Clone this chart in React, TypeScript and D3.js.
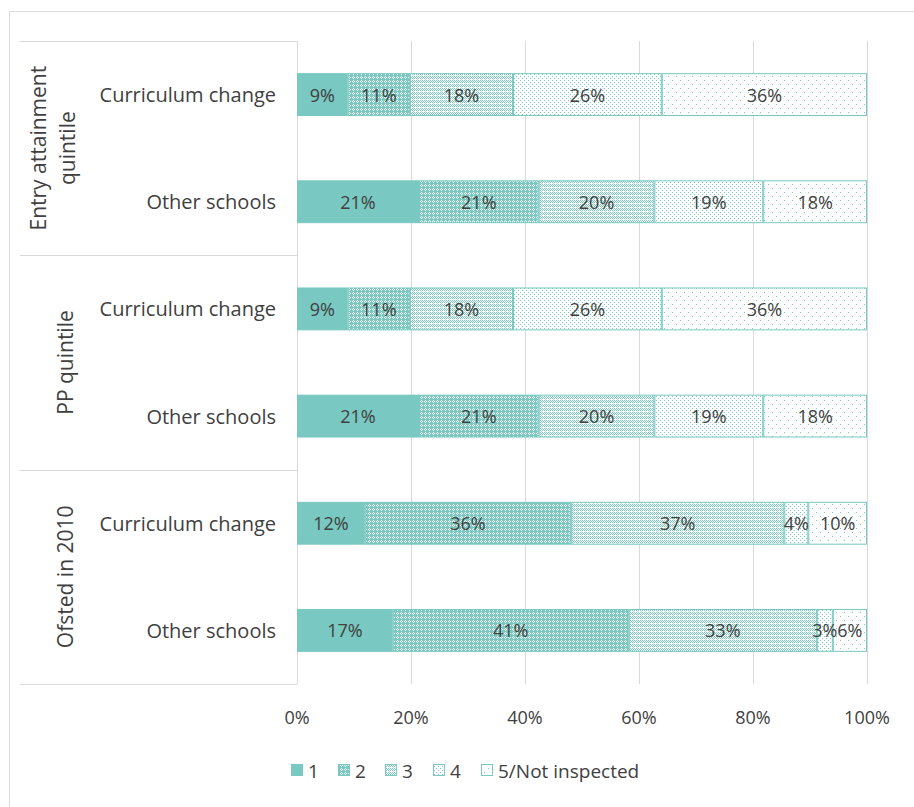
import React from "react";
import * as d3 from "d3";

const groups = ["Entry attainment quintile", "PP quintile", "Ofsted in 2010"];
const groupLines = [["Entry attainment", "quintile"], ["PP quintile"], ["Ofsted in 2010"]];
const rowLabels = ["Curriculum change", "Other schools", "Curriculum change", "Other schools", "Curriculum change", "Other schools"];
const rowGroup = [0, 0, 1, 1, 2, 2];
const seriesNames = ["1", "2", "3", "4", "5/Not inspected"];
const s1 = [8.9, 21.4, 8.9, 21.4, 11.9, 16.8];
const s2 = [10.9, 21.0, 10.9, 21.0, 36.2, 41.4];
const s3 = [18.1, 20.3, 18.1, 20.3, 37.4, 33.0];
const s4 = [26.1, 19.1, 26.1, 19.1, 4.2, 2.8];
const s5 = [36.0, 18.2, 36.0, 18.2, 10.3, 6.0];
const xTicks = [0, 20, 40, 60, 80, 100];

const TEAL = "#79C8C1";
const TEXT = "#404040";
const GRID = "#d9d9d9";
const FONT = "'Open Sans', sans-serif";

export default function App() {
  const series = [s1, s2, s3, s4, s5];
  const left = 297, right = 867, top = 41, bottom = 684;
  const x = d3.scaleLinear().domain([0, 100]).range([left, right]);
  const idx = rowLabels.map((_, i) => String(i));
  const y = d3.scaleBand().domain(idx).range([top, bottom]).paddingInner(0.6).paddingOuter(0.3);
  const step = y.step();
  const rows = rowLabels.map((_, i) => {
    let acc = 0;
    return series.map((s, k) => {
      const v = s[i];
      const seg = { k, x0: acc, x1: acc + v, v };
      acc += v;
      return seg;
    });
  });
  const fills = ["url(#p1)", "url(#p2)", "url(#p3)", "url(#p4)", "url(#p5)"];
  const groupBounds = groups.map((_, g) => {
    const rs = rowGroup.map((gg, i) => (gg === g ? i : -1)).filter((i) => i >= 0);
    const y0 = (y(String(rs[0])) as number) - (step - y.bandwidth()) / 2;
    const y1 = (y(String(rs[rs.length - 1])) as number) + y.bandwidth() + (step - y.bandwidth()) / 2;
    return { y0, y1 };
  });
  const legendX = [291, 338, 385, 433, 481];
  return (
    <svg width={914} height={807} style={{ position: "absolute", left: 0, top: 0, background: "#fff" }} fontFamily={FONT}>
      <defs>
        <pattern id="p2" width={4} height={4} patternUnits="userSpaceOnUse">
          <rect width={4} height={4} fill={TEAL} />
          <rect x={1} y={0} width={1} height={1} fill="#fff" />
          <rect x={0} y={1} width={1} height={1} fill="#fff" />
          <rect x={2} y={1} width={1} height={1} fill="#fff" />
          <rect x={1} y={2} width={1} height={1} fill="#fff" />
        </pattern>
        <pattern id="p3" width={4} height={4} patternUnits="userSpaceOnUse">
          <rect width={4} height={4} fill="#fff" />
          <rect x={0} y={0} width={1} height={1} fill={TEAL} />
          <rect x={2} y={0} width={1} height={1} fill={TEAL} />
          <rect x={1} y={1} width={1} height={1} fill={TEAL} />
          <rect x={3} y={1} width={1} height={1} fill={TEAL} />
          <rect x={0} y={2} width={1} height={1} fill={TEAL} />
          <rect x={2} y={2} width={1} height={1} fill={TEAL} />
          <rect x={1} y={3} width={1} height={1} fill={TEAL} opacity={0.5} />
        </pattern>
        <pattern id="p4" width={4} height={4} patternUnits="userSpaceOnUse">
          <rect width={4} height={4} fill="#fff" />
          <rect x={0} y={0} width={1} height={1} fill={TEAL} />
          <rect x={2} y={2} width={1} height={1} fill={TEAL} />
        </pattern>
        <pattern id="p5" width={8} height={8} patternUnits="userSpaceOnUse">
          <rect width={8} height={8} fill="#fff" />
          <rect x={0} y={0} width={1} height={1} fill={TEAL} />
          <rect x={4} y={4} width={1} height={1} fill={TEAL} />
        </pattern>
        <pattern id="p1" width={4} height={4} patternUnits="userSpaceOnUse">
          <rect width={4} height={4} fill={TEAL} />
        </pattern>
      </defs>
      <rect x={9.5} y={11.5} width={1000} height={1000} fill="none" stroke={GRID} />
      {xTicks.map((t) => (
        <g key={t}>
          <line x1={Math.round(x(t)) + 0.5} x2={Math.round(x(t)) + 0.5} y1={top} y2={bottom} stroke={GRID} />
          <text x={x(t)} y={717} textAnchor="middle" dominantBaseline="central" fontSize={18} fill={TEXT}>
            {t}%
          </text>
        </g>
      ))}
      {groupBounds.map((b, g) => (
        <g key={g}>
          <line x1={20} x2={left} y1={Math.round(b.y0) + 0.5} y2={Math.round(b.y0) + 0.5} stroke={GRID} />
          {g === groups.length - 1 && (
            <line x1={20} x2={left} y1={Math.round(b.y1) + 0.5} y2={Math.round(b.y1) + 0.5} stroke={GRID} />
          )}
          {groupLines[g].map((ln, j) => {
            const n = groupLines[g].length;
            const cx = n === 1 ? 65 : 38 + j * 29;
            const cy = (b.y0 + b.y1) / 2;
            return (
              <text key={j} transform={`translate(${cx},${cy}) rotate(-90)`} textAnchor="middle" dominantBaseline="central" fontSize={21} fill={TEXT}>
                {ln}
              </text>
            );
          })}
        </g>
      ))}
      {rowLabels.map((lab, i) => (
        <text key={i} x={276} y={(y(String(i)) as number) + y.bandwidth() / 2} textAnchor="end" dominantBaseline="central" fontSize={20} fill={TEXT}>
          {lab}
        </text>
      ))}
      {rows.map((segs, i) => (
        <g key={i}>
          {segs.map((s) => (
            <rect
              key={s.k}
              x={x(s.x0) + 0.5}
              y={(y(String(i)) as number) + 0.5}
              width={x(s.x1) - x(s.x0) - 1}
              height={y.bandwidth() - 1}
              fill={fills[s.k]}
              stroke={TEAL}
              strokeWidth={1}
            />
          ))}
          {segs.map((s) => (
            <text
              key={"t" + s.k}
              x={(x(s.x0) + x(s.x1)) / 2}
              y={(y(String(i)) as number) + y.bandwidth() / 2}
              textAnchor="middle"
              dominantBaseline="central"
              fontSize={18}
              fill={TEXT}
            >
              {Math.round(s.v)}%
            </text>
          ))}
        </g>
      ))}
      {seriesNames.map((n, k) => (
        <g key={n}>
          <rect x={legendX[k] + 0.5} y={764.5} width={11} height={11} fill={fills[k]} stroke={TEAL} />
          <text x={legendX[k] + 17} y={771} dominantBaseline="central" fontSize={19} fill={TEXT}>
            {n}
          </text>
        </g>
      ))}
    </svg>
  );
}
